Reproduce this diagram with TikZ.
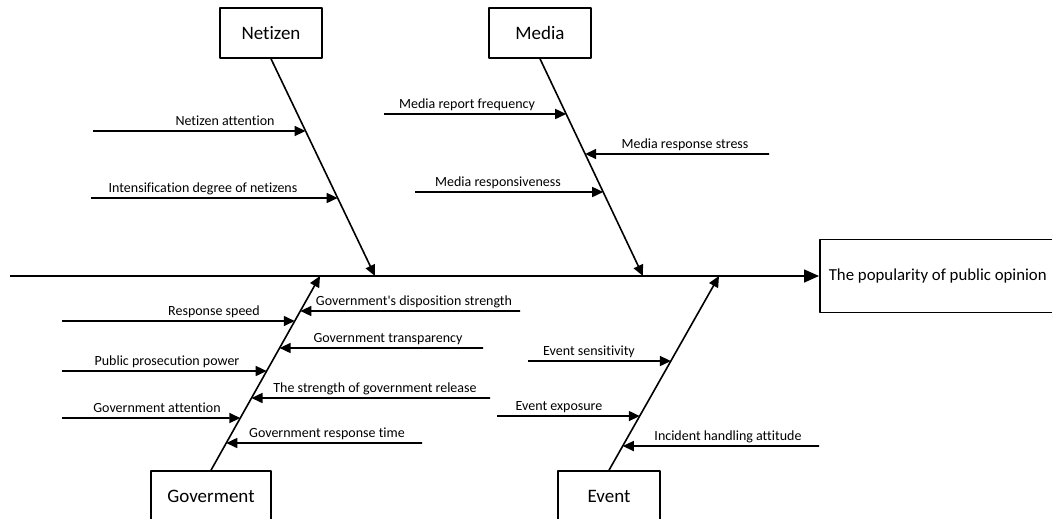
\documentclass[tikz,border=0pt]{standalone}
\usepackage{fontspec}
\setmainfont{Carlito}[Ligatures=NoCommon]
\usetikzlibrary{arrows.meta}
\tikzset{
  catbox/.style={draw, line width=1.6pt, minimum width=102pt, minimum height=50pt, inner sep=2pt, font=\fontsize{19}{22}\selectfont},
  effbox/.style={draw, line width=1.6pt, minimum height=73pt, inner xsep=9pt, anchor=west, font=\fontsize{16.8}{20}\selectfont},
  lbl/.style={anchor=base, inner sep=0pt, font=\fontsize{14}{16}\selectfont},
  arr/.style={line width=1.6pt, -{Triangle[length=11pt,width=10pt]}},
  every picture/.style={line join=round}
}
\begin{document}
\begin{tikzpicture}[x=1pt,y=-1pt]
  \clip (0,0) rectangle (1052,519);

  % category boxes and effect
  \node[catbox] (net) at (271,33) {Netizen};
  \node[catbox] (med) at (540,33) {Media};
  \node[catbox, minimum width=120pt] (gov) at (211,496) {Goverment};
  \node[catbox] (evt) at (609,496) {Event};
  \node[effbox] (res) at (819,276) {\makebox[240pt][l]{The popularity of public opinion}};

  % spine
  \coordinate (tail) at (10,276);
  \draw[arr, -{Triangle[length=15pt,width=13pt]}] (tail) -- (res.west);

  % main bones
  \coordinate (netS) at (375,276);
  \coordinate (medS) at (643,276);
  \coordinate (govS) at (320,276);
  \coordinate (evtS) at (719,276);
  \draw[arr] (net.south) -- (netS);
  \draw[arr] (med.south) -- (medS);
  \draw[arr] (gov.north) -- (govS);
  \draw[arr] (evt.north) -- (evtS);

  % netizen causes
  \coordinate (na) at (93,131);
  \coordinate (nb) at (91,198);
  \draw[arr] (na) -- (intersection of net.south--netS and na--1000,131);
  \draw[arr] (nb) -- (intersection of net.south--netS and nb--1000,198);
  \node[lbl] (la) at (225,125) {Netizen attention};
  \node[lbl] (lb) at (203,192) {Intensification degree of netizens};

  % media causes
  \coordinate (ma) at (384,114);
  \coordinate (mb) at (769,154);
  \coordinate (mc) at (415,192);
  \draw[arr] (ma) -- (intersection of med.south--medS and ma--1000,114);
  \draw[arr] (mb) -- (intersection of med.south--medS and mb--0,154);
  \draw[arr] (mc) -- (intersection of med.south--medS and mc--1000,192);
  \node[lbl] (lma) at (467,108) {Media report frequency};
  \node[lbl] (lmb) at (685,148) {Media response stress};
  \node[lbl] (lmc) at (498,186) {Media responsiveness};

  % government causes
  \coordinate (ga) at (62,321);
  \coordinate (gb) at (520,311);
  \coordinate (gc) at (483,348);
  \coordinate (gd) at (62,371);
  \coordinate (ge) at (490,398);
  \coordinate (gf) at (62,418);
  \coordinate (gg) at (422,443);
  \draw[arr] (ga) -- (intersection of gov.north--govS and ga--1000,321);
  \draw[arr] (gb) -- (intersection of gov.north--govS and gb--0,311);
  \draw[arr] (gc) -- (intersection of gov.north--govS and gc--0,348);
  \draw[arr] (gd) -- (intersection of gov.north--govS and gd--1000,371);
  \draw[arr] (ge) -- (intersection of gov.north--govS and ge--0,398);
  \draw[arr] (gf) -- (intersection of gov.north--govS and gf--1000,418);
  \draw[arr] (gg) -- (intersection of gov.north--govS and gg--0,443);
  \node[lbl] (lga) at (214,315) {Response speed};
  \node[lbl] (lgb) at (414,305) {Government\textquotesingle s disposition strength};
  \node[lbl] (lgc) at (388,342) {Government transparency};
  \node[lbl] (lgd) at (167,365) {Public prosecution power};
  \node[lbl] (lge) at (375,392) {The strength of government release};
  \node[lbl] (lgf) at (157,412) {Government attention};
  \node[lbl] (lgg) at (327,437) {Government response time};

  % event causes
  \coordinate (ea) at (528,361);
  \coordinate (eb) at (497,416);
  \coordinate (ec) at (819,446);
  \draw[arr] (ea) -- (intersection of evt.north--evtS and ea--1000,361);
  \draw[arr] (eb) -- (intersection of evt.north--evtS and eb--1000,416);
  \draw[arr] (ec) -- (intersection of evt.north--evtS and ec--0,446);
  \node[lbl] (lea) at (589,355) {Event sensitivity};
  \node[lbl] (leb) at (559,410) {Event exposure};
  \node[lbl] (lec) at (728,440) {Incident handling attitude};
\end{tikzpicture}
\end{document}
